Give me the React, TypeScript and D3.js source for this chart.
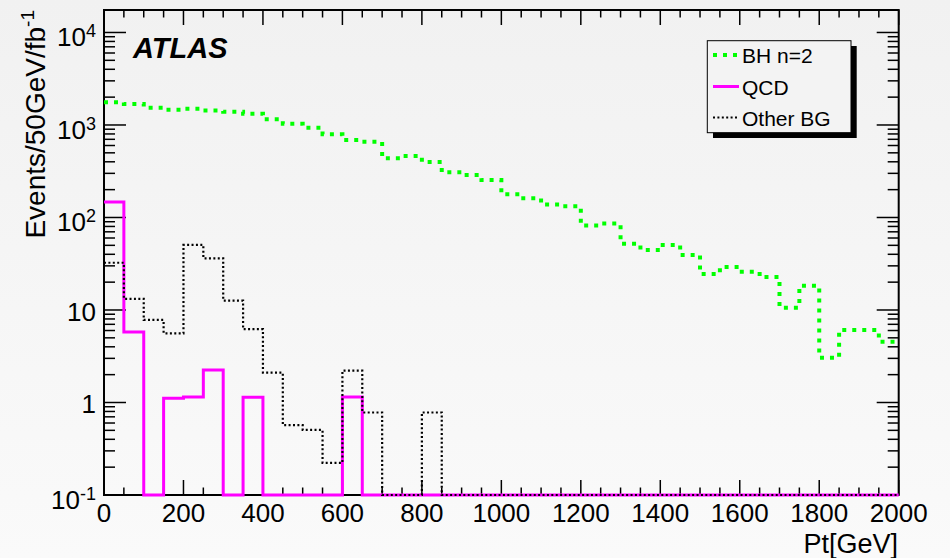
import React from "react";
import * as d3 from "d3";

// bins of 50 GeV from 0 to 2000
const binWidth = 50;
const binStarts = d3.range(0, 2000, binWidth);

const bhN2 = [
  1760, 1690, 1540, 1460, 1500, 1430, 1390, 1325, 1150, 1030, 935, 795, 690, 660,
  437, 462, 398, 308, 288, 254, 178, 161, 138, 132, 82, 86, 52, 44.5, 50.5, 39.3,
  24.5, 29.2, 25.9, 22.7, 10.6, 18.3, 3.05, 6.08, 6.08, 4.54,
];
const qcd = [
  147, 5.8, 0, 1.11, 1.15, 2.25, 0, 1.14, 0, 0, 0, 0, 1.15, 0, 0, 0, 0, 0, 0, 0,
  0, 0, 0, 0, 0, 0, 0, 0, 0, 0, 0, 0, 0, 0, 0, 0, 0, 0, 0, 0,
];
const otherBG = [
  32.4, 13.2, 7.8, 5.6, 50.5, 36.2, 12.6, 6.2, 2.1, 0.57, 0.505, 0.223, 2.21, 0.78,
  0, 0, 0.78, 0, 0, 0, 0, 0, 0, 0, 0, 0, 0, 0, 0, 0, 0, 0, 0, 0, 0, 0, 0, 0, 0, 0,
];

const xTicks = [0, 200, 400, 600, 800, 1000, 1200, 1400, 1600, 1800, 2000];
const yDecades = [-1, 0, 1, 2, 3, 4];
const legendItems = ["BH n=2", "QCD", "Other BG"];

const W = 950;
const H = 558;
const frame = { left: 104, right: 898.7, top: 10, bottom: 495 };
const font = "'Liberation Sans', Arial, Helvetica, sans-serif";

const x = d3.scaleLinear().domain([0, 2000]).range([frame.left, frame.right]);
const yMin = 0.1;
const yMax = Math.pow(10, 4.243);
const y = d3.scaleLog().domain([yMin, yMax]).range([frame.bottom, frame.top]);

const styles = [
  { color: "#00ff00", width: 4, dash: "4,6" },
  { color: "#ff00ff", width: 3, dash: null },
  { color: "#000000", width: 2.2, dash: "2,2.4" },
];

function stepPath(values: number[]) {
  const pts = binStarts.map((b, i) => [b, values[i]] as [number, number]);
  pts.push([2000, values[values.length - 1]]);
  const line = d3
    .line<[number, number]>()
    .x((d) => x(d[0]))
    .y((d) => y(Math.max(d[1], yMin)))
    .curve(d3.curveStepAfter);
  return line(pts) || "";
}

export default function App() {
  const series = [bhN2, qcd, otherBG];

  // minor ticks on the log axis
  const minorY: number[] = [];
  for (let e = -1; e <= 4; e++) {
    for (let k = 2; k <= 9; k++) {
      const v = k * Math.pow(10, e);
      if (v <= yMax) minorY.push(v);
    }
  }
  const minorX = d3.range(0, 2001, 50).filter((v) => v % 200 !== 0);

  return (
    <svg
      width={W}
      height={H}
      style={{ position: "absolute", left: 0, top: 0, display: "block" }}
      fontFamily={font}
    >
      <defs>
        <linearGradient id="bg" x1="0" y1="0" x2="0" y2="1">
          <stop offset="0%" stopColor="#f1f1f1" />
          <stop offset="100%" stopColor="#fafafa" />
        </linearGradient>
      </defs>
      <rect x={0} y={0} width={W} height={H} fill="url(#bg)" />

      {/* frame */}
      <rect
        x={frame.left}
        y={frame.top}
        width={frame.right - frame.left}
        height={frame.bottom - frame.top}
        fill="none"
        stroke="#000"
        strokeWidth={2}
      />

      {/* y ticks, left and right */}
      {yDecades.map((e) => {
        const yy = y(Math.pow(10, e));
        return (
          <g key={"ym" + e}>
            <line x1={frame.left} x2={frame.left + 22} y1={yy} y2={yy} stroke="#000" strokeWidth={1.5} />
            <line x1={frame.right - 22} x2={frame.right} y1={yy} y2={yy} stroke="#000" strokeWidth={1.5} />
          </g>
        );
      })}
      {minorY.map((v, i) => {
        const yy = y(v);
        return (
          <g key={"yn" + i}>
            <line x1={frame.left} x2={frame.left + 11} y1={yy} y2={yy} stroke="#000" strokeWidth={1.5} />
            <line x1={frame.right - 11} x2={frame.right} y1={yy} y2={yy} stroke="#000" strokeWidth={1.5} />
          </g>
        );
      })}

      {/* x ticks, bottom and top */}
      {xTicks.map((t) => (
        <g key={"xm" + t}>
          <line x1={x(t)} x2={x(t)} y1={frame.bottom} y2={frame.bottom - 15} stroke="#000" strokeWidth={1.5} />
          <line x1={x(t)} x2={x(t)} y1={frame.top} y2={frame.top + 15} stroke="#000" strokeWidth={1.5} />
        </g>
      ))}
      {minorX.map((t) => (
        <g key={"xn" + t}>
          <line x1={x(t)} x2={x(t)} y1={frame.bottom} y2={frame.bottom - 7.5} stroke="#000" strokeWidth={1.5} />
          <line x1={x(t)} x2={x(t)} y1={frame.top} y2={frame.top + 7.5} stroke="#000" strokeWidth={1.5} />
        </g>
      ))}

      {/* histograms */}
      {series.map((s, i) => (
        <path
          key={"h" + i}
          d={stepPath(s)}
          fill="none"
          stroke={styles[i].color}
          strokeWidth={styles[i].width}
          strokeDasharray={styles[i].dash || undefined}
          strokeLinejoin="miter"
        />
      ))}

      {/* x tick labels */}
      {xTicks.map((t) => (
        <text key={"xl" + t} x={x(t)} y={522} fontSize={26} textAnchor="middle" fill="#000">
          {t}
        </text>
      ))}

      {/* y tick labels */}
      {yDecades.map((e) => {
        const yy = y(Math.pow(10, e));
        if (e === 0 || e === 1) {
          return (
            <text key={"yl" + e} x={96} y={yy + 11} fontSize={26} textAnchor="end" fill="#000">
              {e === 0 ? "1" : "10"}
            </text>
          );
        }
        return (
          <text key={"yl" + e} x={96} y={yy + 14} fontSize={26} textAnchor="end" fill="#000">
            10
            <tspan fontSize={18} dy={-9}>
              {e}
            </tspan>
          </text>
        );
      })}

      {/* axis titles */}
      <text x={898} y={553} fontSize={27} textAnchor="end" fill="#000">
        Pt[GeV]
      </text>
      <text
        transform="translate(45,10) rotate(-90)"
        fontSize={28}
        textAnchor="end"
        fill="#000"
      >
        Events/50GeV/fb
        <tspan fontSize={19} dy={-11}>
          -1
        </tspan>
      </text>

      {/* ATLAS label */}
      <text x={133} y={58} fontSize={29} fontWeight="bold" fontStyle="italic" fill="#000">
        ATLAS
      </text>

      {/* legend */}
      <rect x={713} y={46} width={143.7} height={92} fill="#000" />
      <rect x={707.3} y={40.7} width={143.7} height={92} fill="#f3f3f3" stroke="#000" strokeWidth={1} />
      {legendItems.map((name, i) => {
        const cy = [55, 86.5, 117.5][i];
        return (
          <g key={"lg" + i}>
            <line
              x1={713}
              x2={739}
              y1={cy}
              y2={cy}
              stroke={styles[i].color}
              strokeWidth={styles[i].width}
              strokeDasharray={styles[i].dash || undefined}
            />
            <text x={742} y={cy + 8} fontSize={21} fill="#000">
              {name}
            </text>
          </g>
        );
      })}
    </svg>
  );
}
